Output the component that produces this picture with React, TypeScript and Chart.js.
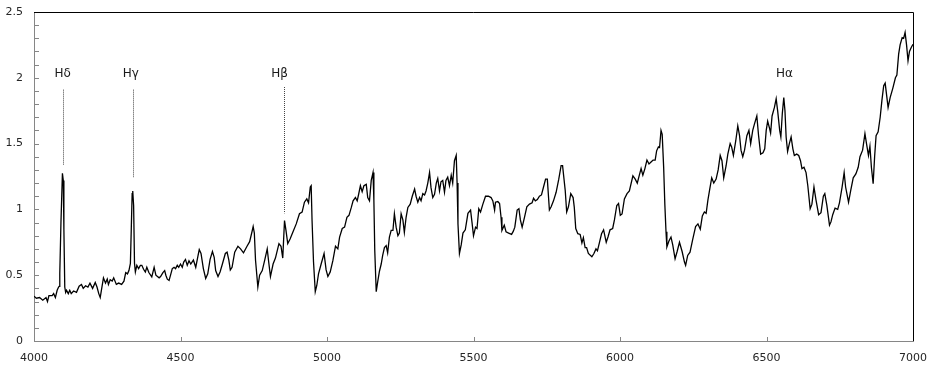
import React, { useEffect, useRef } from "react";
import { Chart, registerables } from "chart.js";

Chart.register(...registerables);

// Wavelength (Å) of each sampled point of the spectrum
const wavelengths = [
  4000, 4008, 4019, 4030, 4041, 4046, 4051, 4062, 4067, 4073, 4079, 4084, 4086, 4088, 4092, 4097, 4100, 4102, 4105, 4108,
  4111, 4117, 4122, 4127, 4135, 4145, 4154, 4162, 4168, 4176, 4184, 4191, 4200, 4209, 4215, 4221, 4226, 4230, 4237, 4244,
  4250, 4254, 4260, 4267, 4272, 4281, 4289, 4299, 4307, 4313, 4319, 4324, 4329, 4332, 4335, 4337, 4340, 4343, 4346, 4351,
  4357, 4363, 4368, 4374, 4380, 4385, 4392, 4402, 4410, 4416, 4427, 4432, 4440, 4446, 4450, 4455, 4461, 4466, 4472, 4478,
  4483, 4489, 4494, 4500, 4506, 4511, 4517, 4523, 4529, 4535, 4544, 4552, 4560, 4564, 4570, 4578, 4586, 4593, 4601, 4609,
  4615, 4620, 4628, 4635, 4643, 4653, 4659, 4665, 4670, 4676, 4685, 4696, 4705, 4715, 4727, 4736, 4744, 4748, 4752, 4756,
  4764, 4770, 4779, 4788, 4796, 4801, 4807, 4816, 4824, 4836, 4843, 4849, 4855, 4860, 4866, 4874, 4883, 4895, 4906, 4915,
  4923, 4931, 4937, 4943, 4946, 4949, 4954, 4960, 4965, 4971, 4980, 4990, 4997, 5003, 5011, 5020, 5029, 5037, 5043, 5052,
  5060, 5068, 5075, 5083, 5089, 5097, 5103, 5108, 5114, 5120, 5126, 5134, 5139, 5145, 5151, 5157, 5160, 5163, 5168, 5173,
  5179, 5185, 5190, 5196, 5202, 5207, 5213, 5219, 5225, 5230, 5236, 5242, 5247, 5253, 5259, 5264, 5270, 5276, 5284, 5291,
  5299, 5304, 5310, 5316, 5321, 5327, 5333, 5338, 5344, 5350, 5355, 5361, 5367, 5373, 5378, 5384, 5389, 5395, 5401, 5406,
  5412, 5418, 5424, 5429, 5435, 5441, 5444, 5447, 5452, 5458, 5464, 5472, 5481, 5490, 5495, 5500, 5507, 5512, 5518, 5524,
  5532, 5541, 5551, 5560, 5566, 5572, 5575, 5583, 5589, 5594, 5597, 5605, 5611, 5620, 5630, 5636, 5641, 5649, 5655, 5660,
  5666, 5674, 5682, 5691, 5700, 5705, 5711, 5718, 5725, 5732, 5739, 5746, 5752, 5759, 5765, 5773, 5782, 5791, 5799, 5804,
  5813, 5818, 5824, 5832, 5840, 5844, 5849, 5856, 5864, 5870, 5875, 5881, 5886, 5892, 5904, 5911, 5918, 5923, 5930, 5937,
  5944, 5953, 5959, 5966, 5975, 5981, 5989, 5995, 6001, 6007, 6015, 6024, 6032, 6044, 6052, 6059, 6066, 6072, 6078, 6085,
  6092, 6099, 6106, 6113, 6120, 6125, 6131, 6135, 6140, 6144, 6149, 6153, 6157, 6160, 6167, 6174, 6180, 6188, 6195, 6203,
  6212, 6220, 6224, 6231, 6239, 6248, 6258, 6266, 6274, 6281, 6288, 6294, 6300, 6306, 6313, 6320, 6328, 6335, 6342, 6348,
  6354, 6362, 6368, 6376, 6381, 6387, 6395, 6402, 6408, 6413, 6419, 6425, 6433, 6440, 6446, 6453, 6459, 6467, 6473, 6480,
  6488, 6494, 6499, 6504, 6510, 6514, 6519, 6527, 6533, 6538, 6545, 6549, 6554, 6559, 6563, 6567, 6572, 6578, 6584, 6590,
  6595, 6603, 6610, 6616, 6621, 6628, 6635, 6641, 6649, 6655, 6662, 6669, 6678, 6686, 6694, 6699, 6706, 6715, 6720, 6726,
  6734, 6743, 6749, 6758, 6765, 6770, 6780, 6788, 6796, 6805, 6813, 6819, 6828, 6836, 6842, 6848, 6853, 6858, 6864, 6869,
  6874, 6881, 6888, 6894, 6900, 6905, 6915, 6922, 6931, 6940, 6945, 6951, 6956, 6963, 6968, 6973, 6978, 6983, 6988, 6994,
  7000,
];

// Relative flux at each wavelength
const flux = [
  0.34, 0.325, 0.33, 0.31, 0.33, 0.30, 0.345, 0.345, 0.36, 0.33, 0.385, 0.41, 0.415, 0.515, 0.90, 1.275, 1.22, 0.85, 0.41, 0.37,
  0.386, 0.36, 0.385, 0.36, 0.38, 0.37, 0.417, 0.43, 0.40, 0.42, 0.41, 0.44, 0.40, 0.445, 0.41, 0.36, 0.33, 0.385, 0.48, 0.44,
  0.47, 0.43, 0.465, 0.455, 0.48, 0.43, 0.44, 0.43, 0.455, 0.52, 0.51, 0.535, 0.59, 0.85, 1.12, 1.14, 1.03, 0.59, 0.525, 0.575,
  0.55, 0.575, 0.575, 0.545, 0.525, 0.56, 0.52, 0.487, 0.56, 0.50, 0.48, 0.49, 0.52, 0.535, 0.50, 0.47, 0.46, 0.50, 0.55, 0.56,
  0.55, 0.575, 0.56, 0.585, 0.56, 0.60, 0.62, 0.575, 0.61, 0.585, 0.615, 0.56, 0.65, 0.695, 0.665, 0.55, 0.475, 0.51, 0.62, 0.68,
  0.635, 0.535, 0.49, 0.525, 0.585, 0.665, 0.675, 0.615, 0.54, 0.56, 0.675, 0.72, 0.70, 0.67, 0.72, 0.755, 0.83, 0.87, 0.82, 0.615,
  0.41, 0.50, 0.535, 0.62, 0.70, 0.60, 0.49, 0.585, 0.63, 0.74, 0.72, 0.63, 0.915, 0.84, 0.74, 0.775, 0.825, 0.89, 0.967, 0.98,
  1.055, 1.08, 1.05, 1.17, 1.18, 0.915, 0.60, 0.375, 0.42, 0.51, 0.585, 0.665, 0.54, 0.49, 0.525, 0.61, 0.72, 0.70, 0.79, 0.855,
  0.865, 0.94, 0.955, 1.015, 1.065, 1.09, 1.065, 1.115, 1.18, 1.135, 1.18, 1.19, 1.09, 1.065, 1.22, 1.28, 1.07, 0.69, 0.375, 0.45,
  0.53, 0.585, 0.65, 0.71, 0.725, 0.67, 0.79, 0.84, 0.84, 0.967, 0.865, 0.80, 0.82, 0.967, 0.92, 0.825, 0.94, 1.015, 1.04, 1.10,
  1.155, 1.10, 1.055, 1.09, 1.065, 1.12, 1.11, 1.14, 1.20, 1.28, 1.165, 1.09, 1.115, 1.20, 1.235, 1.14, 1.21, 1.22, 1.13, 1.22,
  1.245, 1.18, 1.26, 1.20, 1.37, 1.41, 1.20, 0.89, 0.665, 0.73, 0.82, 0.845, 0.97, 0.995, 0.90, 0.80, 0.865, 0.855, 1.005, 0.98,
  1.04, 1.10, 1.10, 1.09, 1.065, 0.995, 1.055, 1.06, 1.045, 0.94, 0.84, 0.88, 0.83, 0.82, 0.81, 0.835, 0.865, 0.995, 1.005, 0.92,
  0.865, 0.94, 1.02, 1.04, 1.05, 1.085, 1.065, 1.075, 1.10, 1.11, 1.17, 1.23, 1.23, 0.995, 1.02, 1.065, 1.13, 1.23, 1.333, 1.333,
  1.145, 0.98, 1.02, 1.12, 1.09, 1.015, 0.855, 0.815, 0.81, 0.745, 0.785, 0.71, 0.71, 0.665, 0.64, 0.665, 0.70, 0.685, 0.75, 0.815,
  0.845, 0.75, 0.79, 0.845, 0.855, 0.92, 1.03, 1.045, 0.955, 0.965, 1.08, 1.12, 1.14, 1.255, 1.23, 1.20, 1.26, 1.31, 1.26, 1.31,
  1.375, 1.345, 1.36, 1.375, 1.375, 1.445, 1.475, 1.47, 1.60, 1.57, 1.32, 1.04, 0.83, 0.715, 0.76, 0.79, 0.73, 0.625, 0.68, 0.75,
  0.68, 0.60, 0.575, 0.65, 0.675, 0.77, 0.87, 0.89, 0.85, 0.95, 0.98, 0.97, 1.07, 1.15, 1.24, 1.20, 1.23, 1.30, 1.41, 1.37,
  1.24, 1.33, 1.42, 1.50, 1.475, 1.41, 1.52, 1.635, 1.56, 1.45, 1.40, 1.45, 1.56, 1.60, 1.50, 1.60, 1.65, 1.71, 1.56, 1.42,
  1.43, 1.46, 1.60, 1.67, 1.62, 1.58, 1.71, 1.775, 1.84, 1.75, 1.60, 1.55, 1.73, 1.85, 1.75, 1.55, 1.44, 1.50, 1.55, 1.46,
  1.41, 1.42, 1.41, 1.37, 1.31, 1.32, 1.28, 1.18, 1.005, 1.04, 1.17, 1.07, 0.96, 0.975, 1.10, 1.12, 1.03, 0.88, 0.905, 0.96,
  1.01, 1.00, 1.05, 1.17, 1.28, 1.17, 1.055, 1.15, 1.24, 1.27, 1.32, 1.40, 1.45, 1.575, 1.49, 1.41, 1.48, 1.32, 1.195, 1.40,
  1.56, 1.59, 1.70, 1.83, 1.94, 1.96, 1.775, 1.85, 1.92, 2.00, 2.02, 2.18, 2.25, 2.305, 2.30, 2.345, 2.25, 2.13, 2.20, 2.23,
  2.255,
];

// Axis ticks
const xTickValues = [4000, 4500, 5000, 5500, 6000, 6500, 7000];
const xTickLabels = ["4000", "4500", "5000", "5500", "6000", "6500", "7000"];
const yTickValues = [0, 0.5, 1, 1.5, 2, 2.5];
const yTickLabels = ["0", "0.5", "1", "1.5", "2", "2.5"];
const yMinorTicks = [0.1, 0.2, 0.3, 0.4, 0.5, 0.6, 0.7, 0.8, 0.9, 1.0, 1.1, 1.2, 1.3, 1.4, 1.5, 1.6, 1.7, 1.8, 1.9, 2.0, 2.1, 2.2, 2.3, 2.4];

// Line identifications
const lineNames = ["Hδ", "Hγ", "Hβ", "Hα"];
const lineLabelX = [4098, 4330, 4838, 6561];
const lineLabelY = [2.03, 2.03, 2.03, 2.03];
const markerX = [4098, 4337, 4853, null];
const markerTop = [1.91, 1.91, 1.93, null];
const markerBottom = [1.34, 1.24, 0.97, null];

const FONT = "'DejaVu Sans', Verdana, sans-serif";

const decorPlugin = {
  id: "decor",
  afterDatasetsDraw(chart: any) {
    const { ctx, chartArea, scales } = chart;
    const { left, right, top, bottom } = chartArea;
    const x = scales.x;
    const y = scales.y;
    ctx.save();
    // top and right frame
    ctx.strokeStyle = "#000";
    ctx.lineWidth = 1;
    ctx.beginPath();
    ctx.moveTo(left, Math.round(top) + 0.5);
    ctx.lineTo(Math.round(right) + 0.5, Math.round(top) + 0.5);
    ctx.lineTo(Math.round(right) + 0.5, bottom);
    ctx.stroke();
    // minor y ticks (inside)
    ctx.strokeStyle = "#868686";
    ctx.beginPath();
    yMinorTicks.forEach((v) => {
      const yy = Math.round(y.getPixelForValue(v)) + 0.5;
      ctx.moveTo(left, yy);
      ctx.lineTo(left + 5, yy);
    });
    // x ticks (inside)
    xTickValues.forEach((v) => {
      const xx = Math.round(x.getPixelForValue(v)) + 0.5;
      if (xx <= left + 1 || xx >= right - 1) return;
      ctx.moveTo(xx, bottom);
      ctx.lineTo(xx, bottom - 4);
    });
    ctx.stroke();
    // dotted marker lines
    ctx.strokeStyle = "#444";
    ctx.setLineDash([1, 1]);
    ctx.beginPath();
    markerX.forEach((mx, i) => {
      if (mx == null) return;
      const xx = Math.round(x.getPixelForValue(mx)) + 0.5;
      ctx.moveTo(xx, y.getPixelForValue(markerTop[i] as number));
      ctx.lineTo(xx, y.getPixelForValue(markerBottom[i] as number));
    });
    ctx.stroke();
    ctx.setLineDash([]);
    // labels
    ctx.fillStyle = "#1a1a1a";
    ctx.font = `12px ${FONT}`;
    ctx.textAlign = "center";
    ctx.textBaseline = "middle";
    lineNames.forEach((n, i) => {
      ctx.fillText(n, x.getPixelForValue(lineLabelX[i]), y.getPixelForValue(lineLabelY[i]));
    });
    ctx.restore();
  },
};

export default function App() {
  const ref = useRef<HTMLCanvasElement | null>(null);
  useEffect(() => {
    document.body.style.margin = "0";
    const canvas = ref.current;
    if (!canvas) return;
    const points = wavelengths.map((w, i) => ({ x: w, y: flux[i] }));
    const chart = new Chart(canvas, {
      type: "line",
      data: {
        datasets: [
          {
            data: points,
            borderColor: "#000",
            borderWidth: 1.3,
            pointRadius: 0,
            tension: 0,
            fill: false,
          },
        ],
      },
      options: {
        animation: false,
        responsive: false,
        events: [],
        layout: { padding: { top: 12, right: 27, left: 0, bottom: 0 } },
        plugins: { legend: { display: false }, tooltip: { enabled: false } },
        scales: {
          x: {
            type: "linear",
            min: 4000,
            max: 7000,
            afterBuildTicks: (scale: any) => {
              scale.ticks = xTickValues.map((v) => ({ value: v }));
            },
            afterFit: (scale: any) => {
              scale.height = 32;
              scale.paddingLeft = 0;
              scale.paddingRight = 0;
            },
            grid: { display: false, drawTicks: false },
            border: { display: true, color: "#868686", width: 1 },
            ticks: {
              padding: 11,
              color: "#262626",
              font: { family: FONT, size: 11 },
              maxRotation: 0,
              autoSkip: false,
              callback: (v: any) => {
                const i = xTickValues.indexOf(Number(v));
                return i >= 0 ? xTickLabels[i] : "";
              },
            },
          },
          y: {
            type: "linear",
            min: 0,
            max: 2.5,
            afterBuildTicks: (scale: any) => {
              scale.ticks = yTickValues.map((v) => ({ value: v }));
            },
            afterFit: (scale: any) => {
              scale.width = 34;
              scale.paddingTop = 0;
              scale.paddingBottom = 0;
            },
            grid: { display: false, drawTicks: false },
            border: { display: true, color: "#868686", width: 1 },
            ticks: {
              padding: 11,
              color: "#262626",
              font: { family: FONT, size: 11 },
              autoSkip: false,
              callback: (v: any) => {
                const i = yTickValues.indexOf(Number(v));
                return i >= 0 ? yTickLabels[i] : "";
              },
            },
          },
        },
      },
      plugins: [decorPlugin],
    });
    return () => chart.destroy();
  }, []);
  return (
    <div style={{ width: 940, height: 373, background: "#fff" }}>
      <canvas ref={ref} width={940} height={373} />
    </div>
  );
}
